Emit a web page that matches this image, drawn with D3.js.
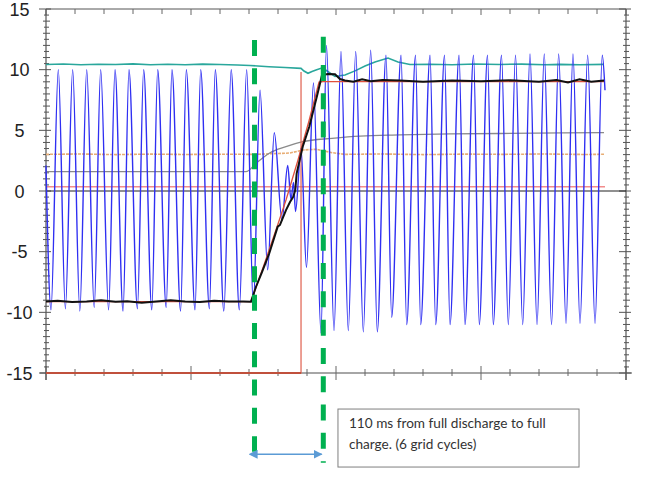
<!DOCTYPE html>
<html><head><meta charset="utf-8">
<script src="https://cdn.jsdelivr.net/npm/d3@7"></script>
<style>html,body{margin:0;padding:0;background:#fff}svg{display:block}</style>
</head><body>
<script>
// ---- data (time in ms, value in chart units) ----
const yTickLabels = [15, 10, 5, 0, -5, -10, -15];
const xTickValues = [0,50,100,150,200,250,300,350,400,450,500,550,600,650,700,750,800,850,900,950,1000];

const blueT = [0,8.6,21.2,33.4,46.0,58.3,70.2,83.1,94.3,107.9,119.0,132.8,143.1,157.6,168.4,182.4,192.6,207.2,217.2,232.1,241.9,256.9,266.7,281.7,291.9,306.6,319.3,333.3,346.0,357.4,369.0,382.2,393.6,406.9,416.7,422.4,426.7,430.2,439.7,449.1,461.2,474.1,483.6,496.6,508.6,521.2,534.0,547.1,559.8,571.2,586.2,596.0,612.1,621.9,637.1,646.0,662.1,671.9,687.1,696.6,712.1,722.4,737.1,747.1,761.2,771.2,785.3,797.1,809.5,821.9,834.5,846.6,859.1,871.6,883.9,896.6,908.6,920.7,933.9,946.6,959.1,963.8];
const blueV = [2.1,-9.8,10.0,-9.7,10.0,-9.9,10.0,-9.6,10.0,-9.8,10.0,-9.9,10.0,-9.7,10.0,-9.8,10.0,-9.6,10.0,-9.9,10.0,-9.8,10.0,-9.7,10.0,-9.9,10.0,-9.8,10.0,-9.5,8.3,-6.5,4.8,-2.4,2.1,-0.7,0.7,-1.7,3.5,-6.3,8.9,-11.7,12.0,-11.5,11.5,-11.5,11.5,-11.6,11.6,-11.6,11.2,-10.4,11.2,-11.0,11.2,-11.0,11.2,-11.0,11.2,-11.0,11.2,-11.0,11.2,-11.0,11.2,-11.0,11.2,-11.0,11.2,-11.0,11.3,-11.0,11.3,-11.0,11.3,-10.9,11.3,-10.9,11.2,-10.9,11.2,8.3];

const tealT = [0,30,60,90,120,150,180,210,240,270,300,330,351.7,384.5,412.1,439.7,444.8,451.7,458.6,465.5,474.1,482.8,498.3,515.5,532.8,550,567.2,589.7,606.9,627.6,662.1,700,740,782.8,820,860,886.2,920,962.1];
const tealV = [10.43,10.47,10.40,10.45,10.42,10.48,10.41,10.45,10.40,10.46,10.42,10.38,10.34,10.24,10.18,10.11,9.89,9.70,9.85,9.97,10.11,9.95,9.44,9.56,9.90,10.30,10.63,10.96,10.63,10.43,10.45,10.40,10.47,10.43,10.46,10.41,10.44,10.40,10.44];

const blackT = [0,20,45,70,95,120,140,165,190,215,240,265,290,315,340,353.4,362.1,372.4,385,399.5,403.4,413.8,420.7,426.4,429.8,432.2,442.6,453.9,468.4,475.9,486.2,498.3,506.9,515.5,530,545,560,580,610,650,700,750,800,850,880,900,920,940,962.1];
const blackV = [-9.1,-9.05,-9.15,-9.1,-9.0,-9.12,-9.08,-9.2,-9.1,-9.0,-9.1,-9.15,-9.05,-9.1,-9.1,-9.12,-7.89,-6.68,-5.13,-2.94,-2.80,-1.57,-0.91,-0.47,0.08,1.46,3.65,5.30,8.05,9.56,9.64,9.62,9.23,9.11,9.0,9.2,9.05,9.15,9.1,9.0,9.1,9.05,9.12,9.0,9.15,8.95,9.2,9.0,9.1];

const refT = [0,353.4,377.6,400,413.8,434.5,453.4,470.7,477.6,962.1];
const refV = [-9.12,-9.12,-5.85,-2.72,-0.74,2.55,5.77,8.98,9.01,9.01];

const stepT = [0,439.7,439.7];
const stepV = [-15,-15,9.8];

const grayT = [0,344.8,362.1,385,413.8,442.6,493.1,541.4,610.3,696.6,782.8,962.1];
const grayV = [1.59,1.59,2.28,3.11,3.65,4.06,4.34,4.53,4.62,4.70,4.74,4.81];

const orangeT = [0,60,120,180,240,300,360,420.7,442.6,465.5,493.1,515.5,580,650,720,790,860,930,962.1];
const orangeV = [3.02,3.05,3.0,3.04,3.01,3.03,3.02,3.13,3.38,3.44,3.16,3.02,3.05,3.0,3.04,3.02,3.05,3.01,3.03];

const pinkT = [0,963.8];
const pinkV = [0.35,0.35];

const markerT = [359.5,478.1];
const noteLines = ["110 ms from full discharge to full","charge. (6 grid cycles)"];

// ---- drawing ----
const W = 650, H = 479;
const svg = d3.select("body").append("svg").attr("width",W).attr("height",H);
const x = d3.scaleLinear().domain([0,1000]).range([46,626]);
const y = d3.scaleLinear().domain([-15,15]).range([373,9]);

const zip = (T,V)=>T.map((t,i)=>[t,V[i]]);
const lineLin = d3.line().x(d=>x(d[0])).y(d=>y(d[1]));
const lineSmooth = d3.line().x(d=>x(d[0])).y(d=>y(d[1])).curve(d3.curveMonotoneX);

// axes frame
const axisCol = "#555";
const g = svg.append("g");
g.append("line").attr("x1",x(0)).attr("x2",x(1000)).attr("y1",y(15)).attr("y2",y(15)).attr("stroke",axisCol).attr("stroke-width",1);
g.append("line").attr("x1",x(0)-6).attr("x2",x(1000)+6).attr("y1",y(-15)).attr("y2",y(-15)).attr("stroke","#888").attr("stroke-width",1.5);
xTickValues.forEach((t,i)=>{
  const major = i%5===0;
  g.append("line").attr("x1",x(t)).attr("x2",x(t)).attr("y1",y(-15)-(major?7:4)).attr("y2",y(-15)+(major?7:3)).attr("stroke","#666").attr("stroke-width",1);
  g.append("line").attr("x1",x(t)).attr("x2",x(t)).attr("y1",y(15)).attr("y2",y(15)+(major?6:5)).attr("stroke","#666").attr("stroke-width",1);
});
[0,1000].forEach(t=>{
  g.append("line").attr("x1",x(t)).attr("x2",x(t)).attr("y1",y(15)).attr("y2",y(-15)+7).attr("stroke",axisCol).attr("stroke-width",1.2);
});
d3.range(-15,15.01,0.5).forEach(v=>{
  const major = v%5===0;
  const half = v%1!==0;
  [0,1000].forEach(t=>{
    g.append("line").attr("x1",x(t)-(major?7:(half?2:3))).attr("x2",x(t)+(major?5:(half?3:4))).attr("y1",y(v)).attr("y2",y(v)).attr("stroke",axisCol).attr("stroke-width",1);
  });
});
g.append("line").attr("x1",x(0)).attr("x2",x(1000)).attr("y1",y(0)).attr("y2",y(0)).attr("stroke","#222").attr("stroke-width",1.2);

svg.append("g").selectAll("text").data(yTickLabels).join("text")
  .attr("x",19.5).attr("y",d=>y(d)+6.5).attr("text-anchor","middle")
  .attr("font-family","'Liberation Sans', Arial, sans-serif").attr("font-size",18).attr("fill","#222")
  .text(d=>d);

// series
const series = svg.append("g").attr("fill","none");
series.append("path").attr("d",lineLin(zip(pinkT,pinkV))).attr("stroke","#f28c8c").attr("stroke-width",1.6);
series.append("path").attr("d",lineLin(zip(orangeT,orangeV))).attr("stroke","#e8ad74").attr("stroke-width",1.6).attr("stroke-dasharray","3,1");
series.append("path").attr("d",lineSmooth(zip(grayT,grayV))).attr("stroke","#8a8a8a").attr("stroke-width",1.3);
series.append("path").attr("d",lineLin(zip(stepT,stepV))).attr("stroke","#e0604f").attr("stroke-width",1.2);
series.append("path").attr("d",lineLin(zip(stepT.slice(0,2),stepV.slice(0,2)))).attr("stroke","#c0503c").attr("stroke-width",2);
series.append("path").attr("d",lineLin(zip(tealT,tealV))).attr("stroke","#2aa79c").attr("stroke-width",1.6);
series.append("path").attr("d",lineSmooth(zip(blueT,blueV))).attr("stroke","#2f2ff2").attr("stroke-width",1.4);
series.append("path").attr("d",lineLin(zip(refT,refV))).attr("stroke","#e0503c").attr("stroke-width",1.3);
series.append("path").attr("d",lineLin(zip(blackT,blackV))).attr("stroke","#111").attr("stroke-width",2);

// annotation: green dashed markers
const markerTop = [12.45,12.72], markerBot = [-21.5,-22.4];
markerT.forEach((t,i)=>{
  svg.append("line").attr("x1",x(t)).attr("x2",x(t)).attr("y1",y(markerTop[i])).attr("y2",y(markerBot[i]))
    .attr("stroke","#00b050").attr("stroke-width",5).attr("stroke-dasharray","16,12.3");
});
const defs = svg.append("defs");
["s","e"].forEach(k=>{
  defs.append("marker").attr("id","ar"+k).attr("viewBox","0 0 10 10").attr("refX",k==="e"?9:1).attr("refY",5)
    .attr("markerWidth",6).attr("markerHeight",6).attr("orient",k==="e"?"auto":"auto-start-reverse").attr("markerUnits","strokeWidth")
    .append("path").attr("d","M0,0 L10,5 L0,10 z").attr("fill","#5b9bd5");
});
svg.append("line").attr("x1",x(363.3)).attr("x2",x(475.3)).attr("y1",y(-21.7)).attr("y2",y(-21.7))
  .attr("stroke","#5b9bd5").attr("stroke-width",1.5).attr("marker-start","url(#ars)").attr("marker-end","url(#are)");

// note box
const bx0 = x(503.4), bx1 = x(919), by0 = y(-17.97), by1 = y(-22.75);
svg.append("rect").attr("x",bx0).attr("y",by0).attr("width",bx1-bx0).attr("height",by1-by0)
  .attr("fill","#fff").attr("stroke","#7f7f7f").attr("stroke-width",1);
const note = svg.append("g").selectAll("text").data(noteLines).join("text")
  .attr("x",bx0+11).attr("y",(d,i)=>by0+19+i*21)
  .attr("font-family","Lato, 'Open Sans', sans-serif").attr("font-size",14).attr("fill","#333")
  .text(d=>d);
// fit first line to the width seen in the reference box
const w0 = note.nodes()[0].getComputedTextLength();
const fs = 14 * ((bx1-bx0) * 0.817) / w0;
note.attr("font-size", fs);
</script>
</body></html>
